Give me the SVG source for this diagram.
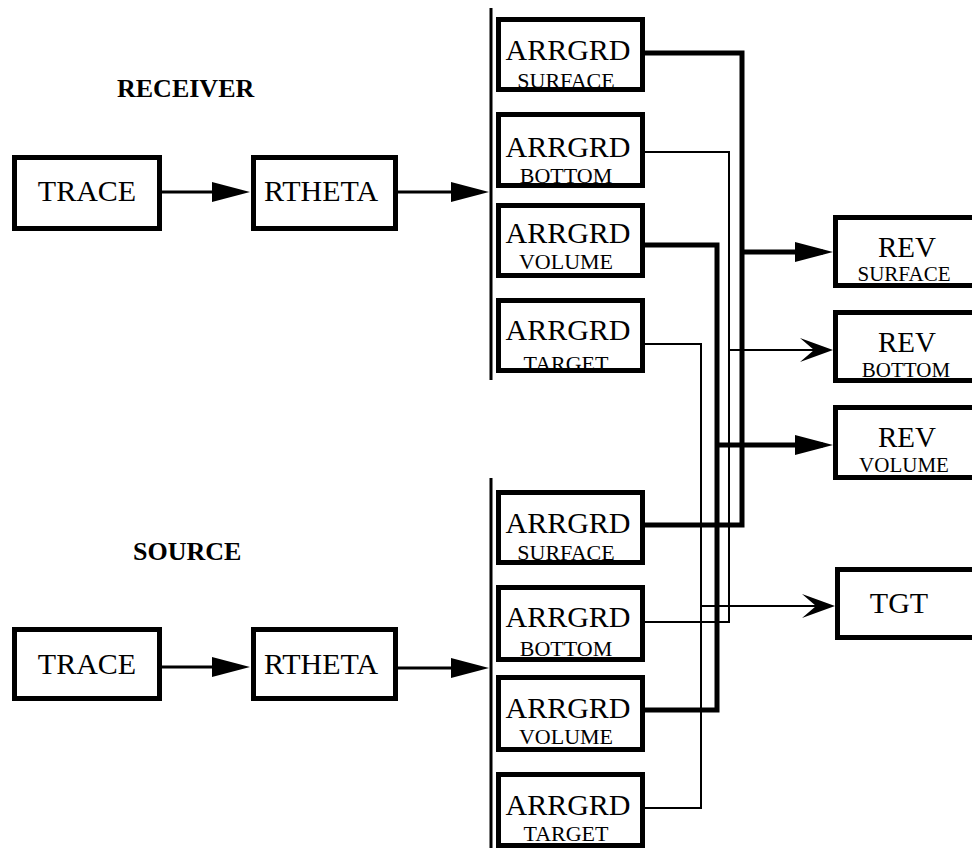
<svg xmlns="http://www.w3.org/2000/svg" width="972" height="848" viewBox="0 0 972 848">
<defs>
<style>
.box{fill:#fff;stroke:#000;stroke-width:5}
.t{font-family:"Liberation Serif","Times New Roman",serif;fill:#000;text-anchor:middle}
.big{font-size:30px}
.sub{font-size:22px}
.rev{font-size:29px}
.rsub{font-size:21px}
.hdr{font-size:26px;font-weight:bold;text-anchor:start}
.thick{fill:none;stroke:#000;stroke-width:5}
.thin{fill:none;stroke:#000;stroke-width:2}
.mid{fill:none;stroke:#000;stroke-width:3}
.bar{stroke:#000;stroke-width:3}
</style>
<marker id="tri" markerUnits="userSpaceOnUse" viewBox="0 0 38 20" markerWidth="38" markerHeight="20" refX="28" refY="10" orient="auto">
<path d="M0,0 L38,10 L0,20 z" fill="#000"/>
</marker>
<marker id="notch" markerUnits="userSpaceOnUse" viewBox="0 0 33 24" markerWidth="33" markerHeight="24" refX="23" refY="12" orient="auto">
<path d="M0,0 L33,12 L0,24 L14,12 z" fill="#000"/>
</marker>
</defs>
<rect width="972" height="848" fill="#fff"/>

<text class="t hdr" x="117" y="97">RECEIVER</text>
<text class="t hdr" x="133" y="560">SOURCE</text>

<g id="connectors">
<line class="bar" x1="491" y1="8" x2="491" y2="380"/>
<line class="bar" x1="491" y1="478" x2="491" y2="848"/>
<path class="mid" d="M162,192 H240" marker-end="url(#tri)"/>
<path class="mid" d="M398,192 H479" marker-end="url(#tri)"/>
<path class="mid" d="M162,667 H240" marker-end="url(#tri)"/>
<path class="mid" d="M398,668 H479" marker-end="url(#tri)"/>
<path class="thin" d="M645,344 H701 V808 H645"/>
<path class="thick" d="M645,245 H717 V710 H645"/>
<path class="thin" d="M645,152 H729 V622 H645"/>
<path class="thick" d="M645,53 H742 V525 H645"/>
<path class="thick" d="M742,252 H823" marker-end="url(#tri)"/>
<path class="thin" d="M729,350 H823" marker-end="url(#notch)"/>
<path class="thick" d="M717,445 H823" marker-end="url(#tri)"/>
<path class="thin" d="M701,606 H825" marker-end="url(#notch)"/>
</g>

<g id="r-trace"><rect class="box" x="14.5" y="157.5" width="145" height="71"/><text class="t big" x="87" y="201">TRACE</text></g>
<g id="r-rtheta"><rect class="box" x="253.5" y="157.5" width="142" height="71"/><text class="t big" x="321" y="201">RTHETA</text></g>
<g id="s-trace"><rect class="box" x="14.5" y="629.5" width="145" height="69"/><text class="t big" x="87" y="674">TRACE</text></g>
<g id="s-rtheta"><rect class="box" x="253.5" y="629.5" width="142" height="69"/><text class="t big" x="321" y="674">RTHETA</text></g>

<g id="r-arrgrd-surface"><rect class="box" x="498.5" y="19.5" width="144" height="70"/><text class="t big" x="568" y="60">ARRGRD</text><text class="t sub" x="566" y="88">SURFACE</text></g>
<g id="r-arrgrd-bottom"><rect class="box" x="498.5" y="114.5" width="144" height="71"/><text class="t big" x="568" y="157">ARRGRD</text><text class="t sub" x="566" y="183">BOTTOM</text></g>
<g id="r-arrgrd-volume"><rect class="box" x="498.5" y="205.5" width="144" height="70"/><text class="t big" x="568" y="243">ARRGRD</text><text class="t sub" x="566" y="269">VOLUME</text></g>
<g id="r-arrgrd-target"><rect class="box" x="498.5" y="300.5" width="144" height="70"/><text class="t big" x="568" y="340">ARRGRD</text><text class="t sub" x="566" y="371">TARGET</text></g>

<g id="s-arrgrd-surface"><rect class="box" x="498.5" y="492.5" width="144" height="70"/><text class="t big" x="568" y="533">ARRGRD</text><text class="t sub" x="566" y="560">SURFACE</text></g>
<g id="s-arrgrd-bottom"><rect class="box" x="498.5" y="587.5" width="144" height="72"/><text class="t big" x="568" y="627">ARRGRD</text><text class="t sub" x="566" y="656">BOTTOM</text></g>
<g id="s-arrgrd-volume"><rect class="box" x="498.5" y="677.5" width="144" height="72"/><text class="t big" x="568" y="718">ARRGRD</text><text class="t sub" x="566" y="744">VOLUME</text></g>
<g id="s-arrgrd-target"><rect class="box" x="498.5" y="774.5" width="144" height="71"/><text class="t big" x="568" y="815">ARRGRD</text><text class="t sub" x="566" y="841">TARGET</text></g>

<g id="rev-surface"><rect class="box" x="835.5" y="217.5" width="160" height="68"/><text class="t rev" x="907" y="257">REV</text><text class="t rsub" x="904" y="281">SURFACE</text></g>
<g id="rev-bottom"><rect class="box" x="835.5" y="312.5" width="160" height="68"/><text class="t rev" x="907" y="352">REV</text><text class="t rsub" x="906" y="377">BOTTOM</text></g>
<g id="rev-volume"><rect class="box" x="835.5" y="407.5" width="160" height="70"/><text class="t rev" x="907" y="447">REV</text><text class="t rsub" x="904" y="472">VOLUME</text></g>
<g id="tgt"><rect class="box" x="837.5" y="569.5" width="160" height="68"/><text class="t big" x="899" y="613">TGT</text></g>
</svg>
